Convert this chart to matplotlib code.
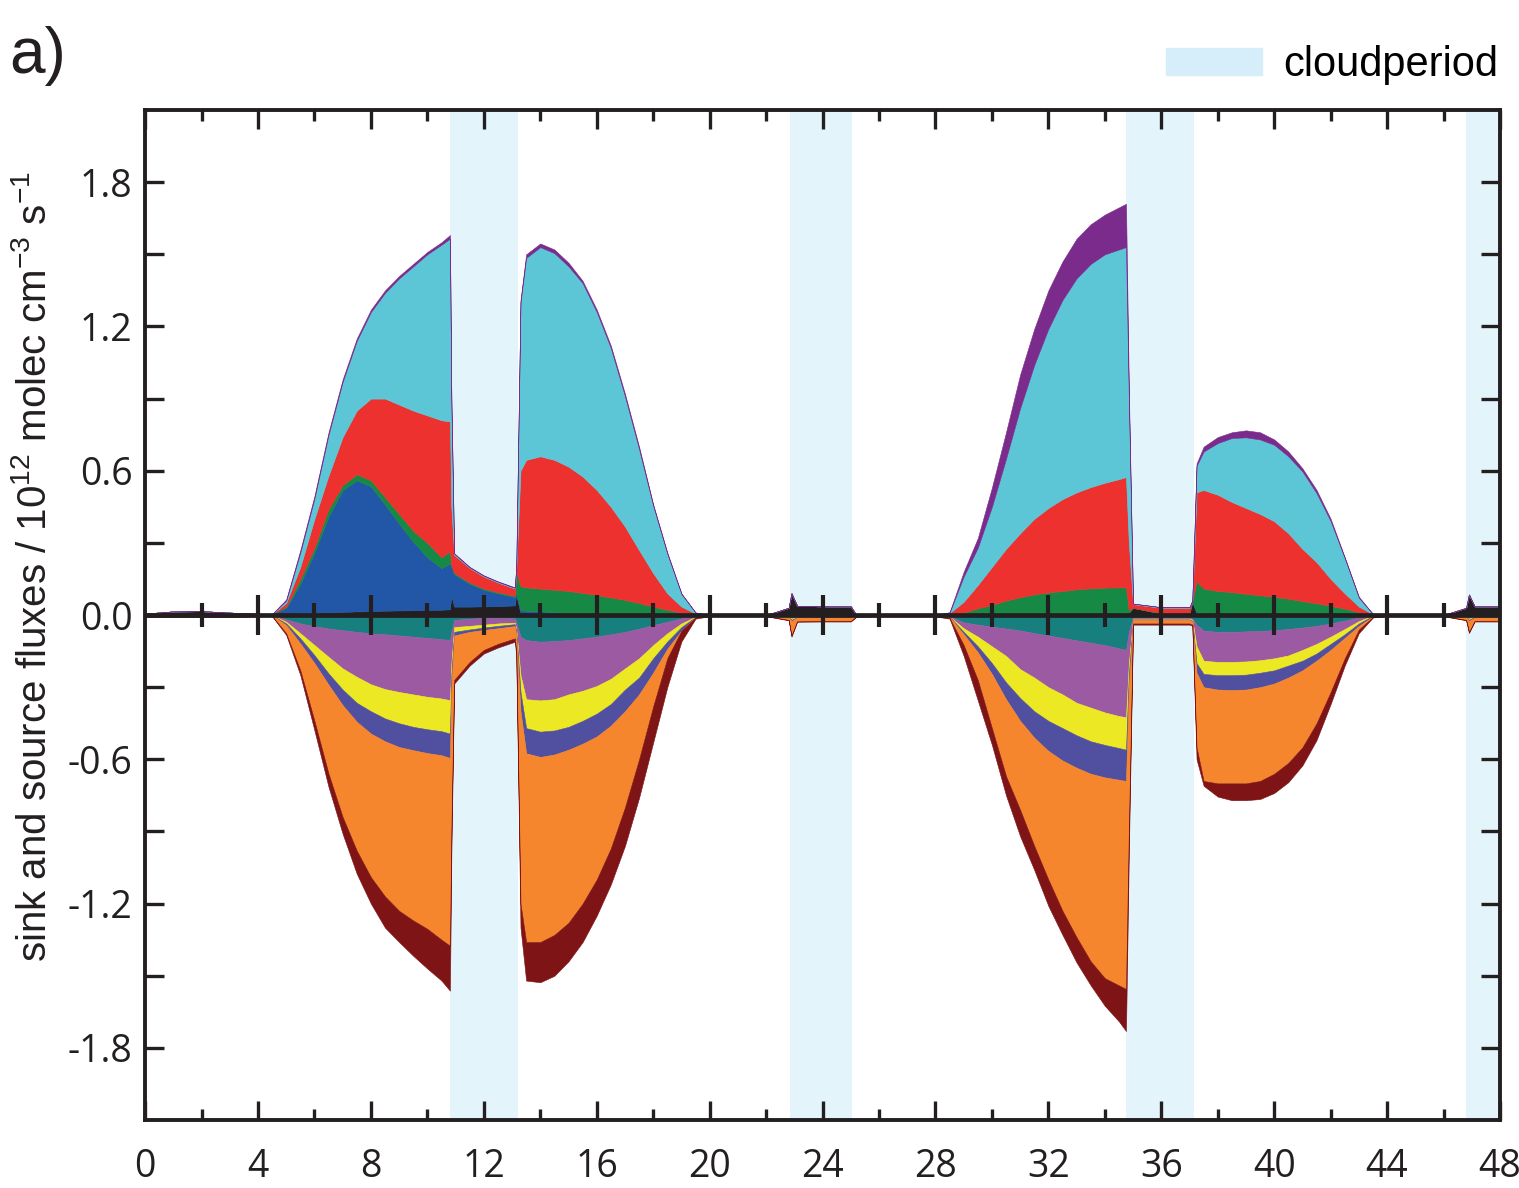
import numpy as np
import matplotlib
matplotlib.use('Agg')
import matplotlib.pyplot as plt
from matplotlib.patches import Patch

plt.rcParams['font.family'] = ['Liberation Sans', 'DejaVu Sans']
plt.rcParams['mathtext.fontset'] = 'custom'
plt.rcParams['mathtext.rm'] = 'Liberation Sans'
plt.rcParams['mathtext.it'] = 'Liberation Sans:italic'

# time in hours
hours = [0, 1, 2, 3, 4, 4.5,
         5, 5.5, 6, 6.5, 7, 7.5, 8, 8.5, 9, 9.5, 10, 10.5, 10.8,
         10.85, 10.95, 11.5, 12, 12.5, 13.1, 13.15,
         13.3, 13.5, 14, 14.5, 15, 15.5, 16, 16.5, 17, 17.5, 18, 18.5, 19, 19.5, 20,
         22, 22.8, 22.9, 23.1, 24, 25.0, 25.2, 26, 28,
         28.5, 29, 29.5, 30, 30.5, 31, 31.5, 32, 32.5, 33, 33.5, 34, 34.5, 34.75,
         34.85, 35.0, 36, 37.0, 37.1, 37.25,
         37.5, 38, 38.5, 39, 39.5, 40, 40.5, 41, 41.5, 42, 42.5, 43, 43.5, 44,
         46, 46.8, 46.9, 47.1, 48]

# source fluxes: upper edge of each stacked layer (10^12 molec cm-3 s-1)
top_black = [0.006, 0.015, 0.016, 0.010, 0.005, 0.004,
             0.005, 0.007, 0.009, 0.011, 0.013, 0.015, 0.016, 0.018, 0.019, 0.020, 0.021, 0.022, 0.024,
             0.080, 0.035, 0.035, 0.036, 0.037, 0.040, 0.085,
             0.006, 0.004, 0.003, 0.003, 0.003, 0.003, 0.003, 0.003, 0.003, 0.003, 0.002, 0.002, 0.002, 0.002, 0.0,
             0.0, 0.030, 0.090, 0.038, 0.036, 0.036, 0.0, 0.0, 0.0,
             0.003, 0.003, 0.003, 0.003, 0.003, 0.003, 0.003, 0.003, 0.003, 0.003, 0.003, 0.003, 0.003, 0.003,
             0.010, 0.030, 0.006, 0.008, 0.055, 0.008,
             0.003, 0.003, 0.003, 0.003, 0.003, 0.003, 0.003, 0.003, 0.003, 0.003, 0.003, 0.003, 0.003, 0.0,
             0.0, 0.030, 0.085, 0.036, 0.036]
top_blue = [0.006, 0.015, 0.016, 0.010, 0.005, 0.004,
            0.030, 0.130, 0.260, 0.410, 0.520, 0.560, 0.535, 0.460, 0.380, 0.305, 0.240, 0.195, 0.215,
            0.200, 0.170, 0.130, 0.105, 0.090, 0.075, 0.090,
            0.020, 0.018, 0.015, 0.012, 0.008, 0.006, 0.004, 0.003, 0.003, 0.003, 0.002, 0.002, 0.002, 0.002, 0.0,
            0.0, 0.030, 0.090, 0.038, 0.036, 0.036, 0.0, 0.0, 0.0,
            0.004, 0.004, 0.004, 0.004, 0.004, 0.004, 0.004, 0.004, 0.004, 0.004, 0.004, 0.004, 0.004, 0.004,
            0.010, 0.030, 0.006, 0.008, 0.055, 0.008,
            0.003, 0.003, 0.003, 0.003, 0.003, 0.003, 0.003, 0.003, 0.003, 0.003, 0.003, 0.003, 0.003, 0.0,
            0.0, 0.030, 0.085, 0.036, 0.036]
top_green = [0.006, 0.015, 0.016, 0.010, 0.005, 0.004,
             0.035, 0.150, 0.280, 0.440, 0.540, 0.585, 0.560, 0.490, 0.420, 0.350, 0.300, 0.240, 0.265,
             0.205, 0.175, 0.135, 0.110, 0.095, 0.080, 0.180,
             0.120, 0.115, 0.110, 0.105, 0.100, 0.092, 0.083, 0.073, 0.063, 0.050, 0.035, 0.022, 0.010, 0.003, 0.0,
             0.0, 0.030, 0.090, 0.038, 0.036, 0.036, 0.0, 0.0, 0.0,
             0.005, 0.010, 0.028, 0.042, 0.060, 0.074, 0.086, 0.094, 0.100, 0.107, 0.111, 0.114, 0.115, 0.115,
             0.020, 0.030, 0.008, 0.010, 0.060, 0.140,
             0.110, 0.100, 0.095, 0.088, 0.082, 0.076, 0.068, 0.058, 0.049, 0.038, 0.027, 0.012, 0.003, 0.0,
             0.0, 0.030, 0.085, 0.036, 0.036]
top_red = [0.006, 0.015, 0.016, 0.010, 0.005, 0.004,
           0.050, 0.200, 0.400, 0.580, 0.740, 0.850, 0.900, 0.900, 0.875, 0.850, 0.830, 0.810, 0.805,
           0.450, 0.250, 0.195, 0.160, 0.135, 0.110, 0.190,
           0.600, 0.645, 0.660, 0.645, 0.617, 0.576, 0.520, 0.450, 0.368, 0.270, 0.174, 0.090, 0.035, 0.006, 0.0,
           0.0, 0.030, 0.090, 0.038, 0.036, 0.036, 0.0, 0.0, 0.0,
           0.008, 0.055, 0.125, 0.200, 0.275, 0.340, 0.400, 0.445, 0.482, 0.510, 0.532, 0.550, 0.565, 0.574,
           0.300, 0.045, 0.030, 0.030, 0.060, 0.510,
           0.520, 0.500, 0.470, 0.445, 0.420, 0.390, 0.340, 0.275, 0.220, 0.150, 0.090, 0.035, 0.003, 0.0,
           0.0, 0.030, 0.085, 0.036, 0.036]
top_cyan = [0.006, 0.015, 0.016, 0.010, 0.005, 0.004,
            0.060, 0.260, 0.485, 0.750, 0.970, 1.140, 1.260, 1.340, 1.400, 1.450, 1.500, 1.540, 1.565,
            0.900, 0.255, 0.198, 0.163, 0.138, 0.113, 0.200,
            1.300, 1.485, 1.530, 1.505, 1.450, 1.380, 1.260, 1.110, 0.910, 0.690, 0.455, 0.255, 0.088, 0.010, 0.0,
            0.0, 0.030, 0.090, 0.038, 0.036, 0.036, 0.0, 0.0, 0.0,
            0.010, 0.160, 0.280, 0.450, 0.650, 0.860, 1.040, 1.190, 1.310, 1.400, 1.460, 1.500, 1.520, 1.530,
            0.900, 0.047, 0.032, 0.032, 0.060, 0.620,
            0.680, 0.715, 0.736, 0.739, 0.730, 0.708, 0.660, 0.597, 0.507, 0.390, 0.236, 0.072, 0.004, 0.0,
            0.0, 0.030, 0.085, 0.036, 0.036]
top_purple = [0.006, 0.015, 0.016, 0.010, 0.005, 0.004,
              0.065, 0.270, 0.495, 0.760, 0.980, 1.150, 1.270, 1.350, 1.410, 1.460, 1.510, 1.550, 1.580,
              0.900, 0.257, 0.200, 0.165, 0.140, 0.115, 0.202,
              1.310, 1.500, 1.545, 1.520, 1.465, 1.390, 1.270, 1.120, 0.920, 0.700, 0.460, 0.260, 0.090, 0.011, 0.0,
              0.0, 0.030, 0.090, 0.038, 0.036, 0.036, 0.0, 0.0, 0.0,
              0.012, 0.180, 0.320, 0.530, 0.760, 1.000, 1.190, 1.350, 1.470, 1.565, 1.625, 1.665, 1.695, 1.710,
              0.950, 0.048, 0.033, 0.033, 0.061, 0.630,
              0.700, 0.740, 0.760, 0.768, 0.760, 0.730, 0.680, 0.610, 0.520, 0.400, 0.240, 0.076, 0.004, 0.0,
              0.0, 0.030, 0.085, 0.036, 0.036]

# sink fluxes: lower edge of each stacked layer
bot_teal = [0, 0, 0, 0, 0, 0,
            -0.018, -0.035, -0.046, -0.056, -0.063, -0.070, -0.076, -0.080, -0.085, -0.090, -0.095, -0.100, -0.104,
            -0.070, -0.020, -0.015, -0.012, -0.012, -0.014, -0.030,
            -0.090, -0.104, -0.111, -0.108, -0.104, -0.097, -0.090, -0.080, -0.070, -0.057, -0.042, -0.028, -0.014, -0.004, 0,
            0, -0.002, -0.005, -0.003, -0.003, -0.003, 0, 0, 0,
            -0.005, -0.030, -0.040, -0.048, -0.056, -0.064, -0.075, -0.085, -0.095, -0.105, -0.115, -0.125, -0.138, -0.145,
            -0.070, -0.010, -0.010, -0.010, -0.015, -0.040,
            -0.065, -0.070, -0.070, -0.068, -0.066, -0.063, -0.058, -0.052, -0.045, -0.035, -0.023, -0.010, -0.002, 0,
            0, -0.002, -0.005, -0.003, -0.003]
bot_lilac = [0, 0, 0, 0, 0, 0,
             -0.028, -0.076, -0.125, -0.174, -0.222, -0.257, -0.288, -0.308, -0.320, -0.330, -0.340, -0.347, -0.354,
             -0.200, -0.050, -0.045, -0.040, -0.035, -0.032, -0.060,
             -0.250, -0.350, -0.355, -0.350, -0.330, -0.315, -0.295, -0.265, -0.222, -0.180, -0.125, -0.076, -0.035, -0.007, 0,
             0, -0.004, -0.015, -0.006, -0.006, -0.006, 0, 0, 0,
             -0.006, -0.055, -0.090, -0.130, -0.170, -0.225, -0.260, -0.300, -0.330, -0.365, -0.385, -0.405, -0.420, -0.425,
             -0.200, -0.015, -0.015, -0.015, -0.020, -0.130,
             -0.190, -0.195, -0.195, -0.193, -0.188, -0.180, -0.168, -0.145, -0.120, -0.090, -0.058, -0.025, -0.002, 0,
             0, -0.004, -0.015, -0.006, -0.006]
bot_yellow = [0, 0, 0, 0, 0, 0,
              -0.035, -0.097, -0.167, -0.243, -0.310, -0.365, -0.400, -0.430, -0.450, -0.465, -0.475, -0.483, -0.493,
              -0.250, -0.070, -0.060, -0.052, -0.045, -0.038, -0.070,
              -0.320, -0.470, -0.485, -0.480, -0.465, -0.440, -0.410, -0.370, -0.310, -0.260, -0.180, -0.110, -0.050, -0.008, 0,
              0, -0.005, -0.020, -0.008, -0.008, -0.008, 0, 0, 0,
              -0.007, -0.070, -0.130, -0.200, -0.280, -0.345, -0.400, -0.440, -0.470, -0.500, -0.525, -0.540, -0.553, -0.560,
              -0.250, -0.018, -0.018, -0.018, -0.025, -0.200,
              -0.245, -0.250, -0.250, -0.248, -0.240, -0.230, -0.210, -0.190, -0.160, -0.120, -0.080, -0.035, -0.003, 0,
              0, -0.005, -0.020, -0.008, -0.008]
bot_violet = [0, 0, 0, 0, 0, 0,
              -0.042, -0.118, -0.200, -0.290, -0.375, -0.444, -0.493, -0.525, -0.549, -0.562, -0.574, -0.583, -0.594,
              -0.300, -0.085, -0.070, -0.062, -0.055, -0.046, -0.080,
              -0.400, -0.575, -0.590, -0.580, -0.560, -0.535, -0.505, -0.460, -0.400, -0.330, -0.240, -0.140, -0.065, -0.010, 0,
              0, -0.006, -0.025, -0.010, -0.010, -0.010, 0, 0, 0,
              -0.008, -0.080, -0.155, -0.245, -0.350, -0.440, -0.510, -0.565, -0.605, -0.635, -0.660, -0.675, -0.685, -0.690,
              -0.300, -0.020, -0.020, -0.020, -0.028, -0.240,
              -0.300, -0.310, -0.312, -0.310, -0.300, -0.285, -0.260, -0.230, -0.190, -0.145, -0.095, -0.045, -0.005, 0,
              0, -0.006, -0.025, -0.010, -0.010]
bot_orange = [-0.006, -0.006, -0.006, -0.006, -0.005, -0.004,
              -0.076, -0.230, -0.440, -0.660, -0.840, -0.980, -1.090, -1.170, -1.230, -1.270, -1.305, -1.350, -1.375,
              -0.900, -0.270, -0.195, -0.145, -0.120, -0.097, -0.150,
              -1.200, -1.360, -1.360, -1.330, -1.280, -1.200, -1.100, -0.970, -0.800, -0.600, -0.380, -0.180, -0.060, -0.010, -0.004,
              -0.004, -0.020, -0.085, -0.026, -0.025, -0.025, -0.006, -0.005, -0.005,
              -0.012, -0.125, -0.270, -0.470, -0.670, -0.810, -0.960, -1.100, -1.230, -1.340, -1.440, -1.510, -1.540, -1.555,
              -0.900, -0.035, -0.035, -0.035, -0.040, -0.550,
              -0.690, -0.700, -0.700, -0.700, -0.690, -0.660, -0.615, -0.550, -0.450, -0.320, -0.180, -0.060, -0.008, -0.004,
              -0.004, -0.020, -0.070, -0.025, -0.025]
bot_darkred = [-0.008, -0.008, -0.008, -0.008, -0.006, -0.005,
               -0.083, -0.250, -0.480, -0.715, -0.910, -1.076, -1.200, -1.300, -1.360, -1.417, -1.470, -1.520, -1.562,
               -1.000, -0.285, -0.210, -0.160, -0.135, -0.111, -0.170,
               -1.300, -1.520, -1.527, -1.500, -1.440, -1.360, -1.250, -1.120, -0.960, -0.760, -0.530, -0.300, -0.110, -0.015, -0.005,
               -0.005, -0.022, -0.090, -0.028, -0.027, -0.027, -0.007, -0.006, -0.006,
               -0.015, -0.170, -0.355, -0.540, -0.750, -0.920, -1.060, -1.210, -1.330, -1.445, -1.540, -1.625, -1.690, -1.730,
               -1.000, -0.040, -0.040, -0.040, -0.045, -0.600,
               -0.710, -0.755, -0.770, -0.770, -0.765, -0.740, -0.695, -0.625, -0.520, -0.370, -0.210, -0.075, -0.010, -0.005,
               -0.005, -0.022, -0.075, -0.027, -0.027]

cloud_periods = [(10.8, 13.2), (22.85, 25.05), (34.75, 37.15), (46.8, 48.0)]

pos_colors = ['#231f20', '#2157a6', '#168a44', '#ec312e', '#5cc6d7', '#7a2b8c']
neg_colors = ['#17807e', '#9c5aa3', '#ece823', '#5150a0', '#f5862e', '#7e1416']
cloud_color = '#e4f4fb'
ink = '#231f20'

t = np.array(hours)
zero = np.zeros_like(t)
pos_edges = np.vstack([zero, top_black, top_blue, top_green, top_red, top_cyan, top_purple])
pos_edges = np.maximum.accumulate(pos_edges, axis=0)
neg_edges = np.vstack([zero, bot_teal, bot_lilac, bot_yellow, bot_violet, bot_orange, bot_darkred])
neg_edges = np.minimum.accumulate(neg_edges, axis=0)

fig = plt.figure(figsize=(15.19, 11.88), dpi=100)
ax = fig.add_axes([0.0955, 0.0572, 0.892, 0.8502])

for a, b in cloud_periods:
    ax.axvspan(a, b, color=cloud_color, lw=0, zorder=0)

ax.stackplot(t, np.diff(pos_edges, axis=0), colors=pos_colors,
             edgecolor='face', linewidth=0.4, zorder=2)
ax.stackplot(t, np.diff(neg_edges, axis=0), colors=neg_colors,
             edgecolor='face', linewidth=0.4, zorder=2)

# zero line with its own crossing ticks
ax.axhline(0, color=ink, lw=3.4, zorder=6)
for xm in range(4, 48, 4):
    ax.plot([xm, xm], [-0.085, 0.085], color=ink, lw=3.0, zorder=7, solid_capstyle='butt')
for xm in range(2, 48, 4):
    ax.plot([xm, xm], [-0.05, 0.05], color=ink, lw=3.0, zorder=7, solid_capstyle='butt')

ax.set_xlim(0, 48)
ax.set_ylim(-2.1, 2.1)
ax.set_xticks(np.arange(0, 49, 4))
ax.set_xticks(np.arange(2, 48, 4), minor=True)
yt = np.round(np.arange(-1.8, 1.81, 0.3), 1)
ax.set_yticks(yt)
ax.set_yticklabels([f'{v:.1f}' if abs(round(v / 0.6) * 0.6 - v) < 1e-6 else '' for v in yt])

for s in ax.spines.values():
    s.set_linewidth(2.8)
    s.set_color(ink)
ax.tick_params(axis='both', which='both', direction='in', top=True, right=True,
               width=2.4, color=ink, labelsize=27, labelcolor=ink)
ax.tick_params(axis='both', which='major', length=14)
ax.tick_params(axis='x', which='minor', length=8)
ax.tick_params(axis='x', which='major', pad=20)
ax.tick_params(axis='y', which='major', pad=9)
for lab in ax.get_xticklabels() + ax.get_yticklabels():
    lab.set_family(['Open Sans', 'DejaVu Sans'])

ax.set_ylabel(r'sink and source fluxes / 10$^{12}$ molec cm$^{-3}$ s$^{-1}$',
              fontsize=29, color=ink)
ax.yaxis.set_label_coords(-0.067, 0.548)

fig.text(0.006, 0.953, 'a)', fontsize=46, color=ink, va='center', ha='left')
fig.legend(handles=[Patch(color='#d5eef9')], labels=['cloudperiod'], loc='upper right',
           bbox_to_anchor=(1.008, 0.99), frameon=False, fontsize=30,
           handlelength=2.3, handleheight=0.65, handletextpad=0.5, borderpad=0.3)

fig.savefig('out.png', dpi=100)
